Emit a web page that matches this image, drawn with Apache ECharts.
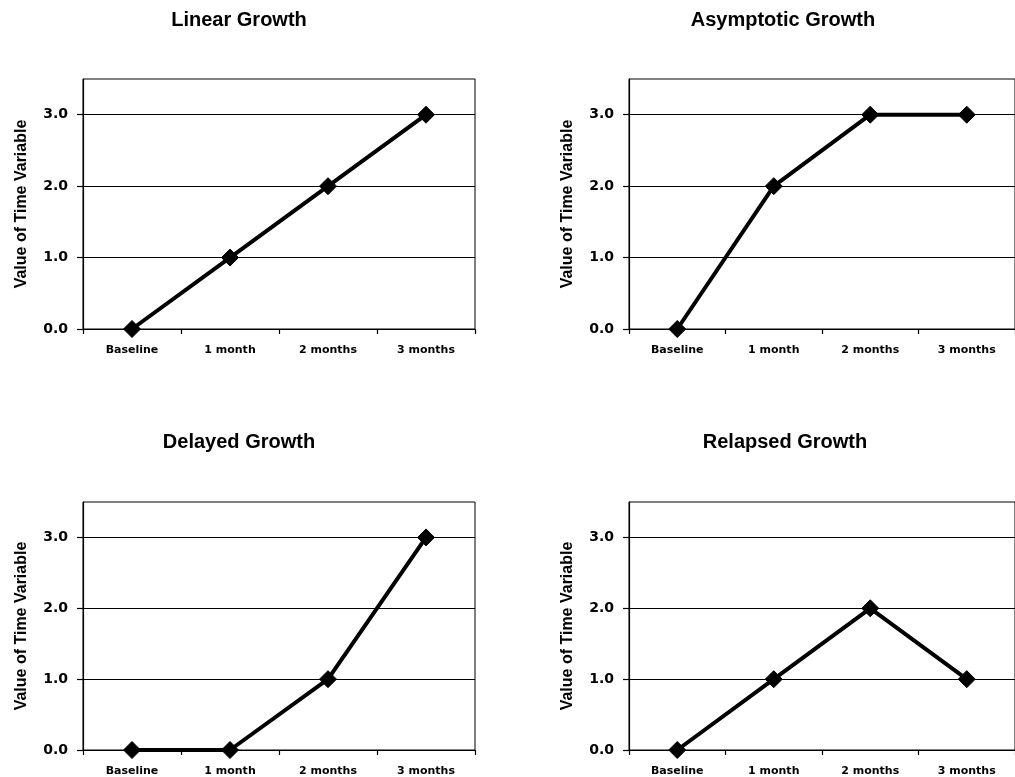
<!DOCTYPE html>
<html>
<head>
<meta charset="utf-8">
<script src="https://cdn.jsdelivr.net/npm/echarts@6/dist/echarts.min.js"></script>
<style>html,body{margin:0;padding:0;background:#fff;}#c{width:1015px;height:777px;}</style>
</head>
<body>
<div id="c"></div>
<script>
const categories = ['Baseline', '1 month', '2 months', '3 months'];
const titles = ['Linear Growth', 'Asymptotic Growth', 'Delayed Growth', 'Relapsed Growth'];
const linear = [0, 1, 2, 3];
const asymptotic = [0, 2, 3, 3];
const delayed = [0, 0, 1, 3];
const relapsed = [0, 1, 2, 1];
const yTicks = [0, 1, 2, 3];
const yName = 'Value of Time Variable';

const seriesData = [linear, asymptotic, delayed, relapsed];
const grids = [
  {left: 83, top: 79, width: 392, height: 250},
  {left: 629, top: 79, width: 392, height: 250},
  {left: 83, top: 502, width: 392, height: 250},
  {left: 629, top: 502, width: 392, height: 250}
];
const titlePos = [{x: 234, y: 15}, {x: 778, y: 15}, {x: 234, y: 437}, {x: 780, y: 437}];

const chart = echarts.init(document.getElementById('c'), null, {renderer: 'canvas'});
const option = {
  animation: false,
  backgroundColor: '#fff',
  title: titles.map((t, i) => ({
    text: t, left: titlePos[i].x, top: titlePos[i].y, textAlign: 'center', textVerticalAlign: 'middle',
    textStyle: {fontFamily: 'Liberation Sans', fontWeight: 'bold', fontSize: 20, color: '#000'}
  })),
  grid: grids.map(g => Object.assign({show: true, borderColor: '#000', borderWidth: 1, backgroundColor: 'transparent', containLabel: false}, g)),
  xAxis: grids.map((g, i) => ({
    type: 'category', gridIndex: i, data: categories, boundaryGap: true,
    axisLine: {show: true, lineStyle: {color: '#000', width: 1.2}},
    axisTick: {show: true, length: 5, inside: false, lineStyle: {color: '#000', width: 1.2}},
    axisLabel: {color: '#000', fontFamily: 'DejaVu Sans', fontWeight: 'bold', fontSize: 11, margin: 16, interval: 0},
    splitLine: {show: false}
  })),
  yAxis: grids.map((g, i) => ({
    type: 'value', gridIndex: i, min: 0, max: 3.5, interval: 1,
    name: yName, nameLocation: 'middle', nameGap: 53, nameRotate: 90,
    nameTextStyle: {color: '#000', fontFamily: 'Liberation Sans', fontWeight: 'bold', fontSize: 16},
    axisLine: {show: true, lineStyle: {color: '#000', width: 1.2}},
    axisTick: {show: true, length: 6, customValues: yTicks, lineStyle: {color: '#000', width: 1.2}},
    axisLabel: {color: '#000', fontFamily: 'DejaVu Sans', fontWeight: 'bold', fontSize: 14, margin: 15,
      customValues: yTicks, formatter: v => Number(v).toFixed(1)},
    splitLine: {show: true, lineStyle: {color: '#000', width: 1.2}}
  })),
  series: seriesData.map((d, i) => ({
    type: 'line', xAxisIndex: i, yAxisIndex: i, data: d,
    symbol: 'diamond', symbolSize: 17, showAllSymbol: true,
    lineStyle: {color: '#000', width: 4},
    itemStyle: {color: '#000', borderColor: '#000'},
    clip: false
  }))
};
chart.setOption(option);
</script>
</body>
</html>
